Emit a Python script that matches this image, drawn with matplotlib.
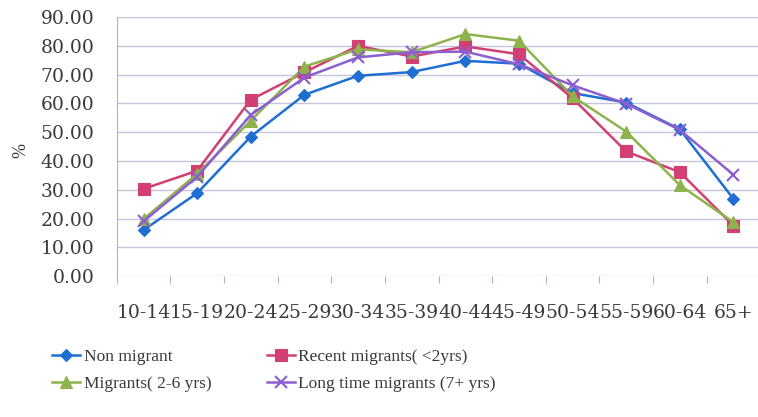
import matplotlib.pyplot as plt

age_groups = ['10-14', '15-19', '20-24', '25-29', '30-34', '35-39',
              '40-44', '45-49', '50-54', '55-59', '60-64', '65+']
non_migrant = [16.0, 28.8, 48.5, 63.0, 69.6, 70.9, 74.8, 73.8, 63.6, 60.3, 51.0, 26.8]
recent = [30.3, 36.6, 61.3, 70.8, 80.0, 76.3, 79.8, 77.1, 61.8, 43.3, 36.1, 17.5]
migrants_2_6 = [19.8, 35.5, 54.0, 72.8, 78.8, 77.8, 84.1, 81.8, 62.5, 50.2, 31.6, 18.7]
long_time = [19.0, 34.5, 56.0, 69.0, 76.0, 77.8, 78.0, 73.6, 66.3, 59.9, 50.8, 35.2]

series = [
    ('Non migrant', non_migrant, '#1f6fd2', 'D', 6),
    ('Recent migrants( <2yrs)', recent, '#d23f72', 's', 9),
    ('Migrants( 2-6 yrs)', migrants_2_6, '#8fb34c', '^', 9),
    ('Long time migrants (7+ yrs)', long_time, '#8a5fd0', 'x', 9),
]

plt.rcParams['font.family'] = ['Liberation Serif', 'DejaVu Serif']
txt = '#3a3a3a'
tick_font = dict(family='DejaVu Serif', size=13.5)

fig = plt.figure(figsize=(7.58, 4.17), dpi=100)
ax = fig.add_axes([0.154, 0.338, 0.849, 0.621])

x = list(range(len(age_groups)))
lines = {}
for name, vals, col, mk, ms in series:
    ln, = ax.plot(x, vals, color=col, marker=mk, markersize=ms, lw=1.8,
                  markeredgewidth=1.5 if mk == 'x' else 0.8, label=name)
    lines[name] = ln

ax.set_xlim(-0.5, len(age_groups) - 0.5)
ax.set_ylim(0, 90)
ax.set_yticks(range(0, 91, 10))
ax.set_yticklabels(['%.2f' % v for v in range(0, 91, 10)], fontdict=tick_font, color=txt)
ax.yaxis.grid(True, color='#c4c4dc', lw=1)
ax.set_axisbelow(True)
ax.tick_params(axis='y', length=0, pad=16)

# boundary ticks without labels, labels at category centres
ax.set_xticks([i - 0.5 for i in range(len(age_groups))])
ax.set_xticklabels([])
ax.tick_params(axis='x', which='major', length=5, color='#b0b0c8', direction='out')
ax.set_xticks(x, minor=True)
ax.set_xticklabels(age_groups, minor=True, fontdict=tick_font, color=txt)
ax.tick_params(axis='x', which='minor', length=0, pad=20)

for s in ['top', 'right', 'bottom']:
    ax.spines[s].set_visible(False)
ax.spines['left'].set_color('#b0b0c8')

fig.text(0.027, 0.64, '%', rotation=90, fontsize=13, color=txt, va='center', ha='center')

order = ['Non migrant', 'Migrants( 2-6 yrs)', 'Recent migrants( <2yrs)', 'Long time migrants (7+ yrs)']
leg = fig.legend([lines[n] for n in order], order, ncol=2, loc='upper left',
                 bbox_to_anchor=(0.06, 0.18), frameon=False, fontsize=12.5,
                 handlelength=1.6, handletextpad=0.2, columnspacing=3.2,
                 labelspacing=0.6, borderaxespad=0)
for t in leg.get_texts():
    t.set_color(txt)

fig.savefig('out.png', dpi=100)
